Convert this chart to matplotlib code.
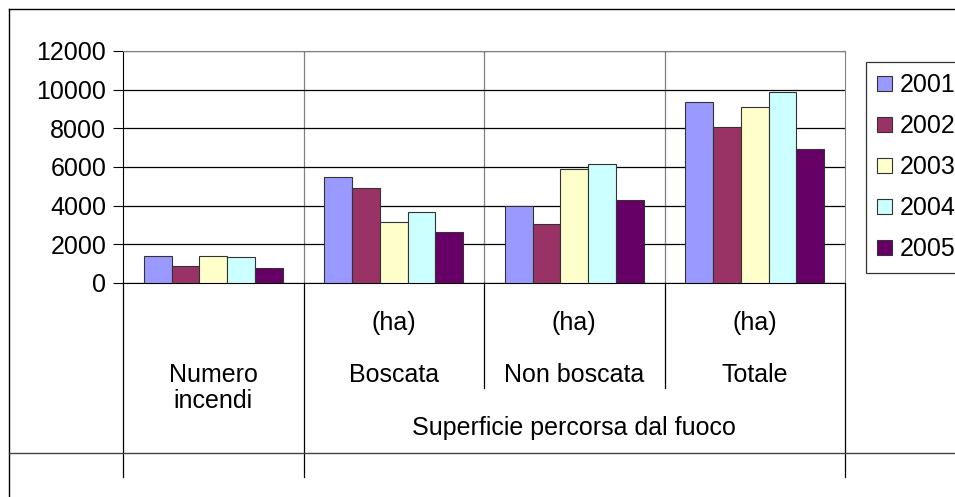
import numpy as np
import matplotlib.pyplot as plt
from matplotlib.lines import Line2D
from matplotlib.transforms import blended_transform_factory

plt.rcParams['font.family'] = ['Liberation Sans', 'DejaVu Sans']

years = ['2001', '2002', '2003', '2004', '2005']
categories = ['Numero\nincendi', 'Boscata', 'Non boscata', 'Totale']
units = ['', '(ha)', '(ha)', '(ha)']
group_label = 'Superficie percorsa dal fuoco'

v2001 = [1400, 5500, 3970, 9370]
v2002 = [900, 4900, 3050, 8070]
v2003 = [1400, 3170, 5900, 9090]
v2004 = [1320, 3670, 6130, 9890]
v2005 = [800, 2660, 4280, 6930]
series = [v2001, v2002, v2003, v2004, v2005]
colors = ['#9999FF', '#993366', '#FFFFCC', '#CCFFFF', '#660066']

W, H = 955, 497
fig = plt.figure(figsize=(W / 100, H / 100), dpi=100)
ax = fig.add_axes([123 / W, 1 - 283 / H, (845 - 123) / W, (283 - 51) / H])

x = np.arange(len(categories))
bw = 0.77 / len(series)
for i, vals in enumerate(series):
    ax.bar(x + (i - 2) * bw, vals, bw, color=colors[i], edgecolor='#333333',
           linewidth=0.8, label=years[i], zorder=3)

ax.set_xlim(-0.5, 3.5)
ax.set_ylim(0, 12000)
ax.set_yticks(np.arange(0, 12001, 2000))
ax.tick_params(axis='y', labelsize=18, length=7, width=0.8, pad=5)
ax.set_xticks([])
ax.yaxis.grid(True, color='black', linewidth=0.9, zorder=0)
for b in [0.5, 1.5, 2.5]:
    ax.axvline(b, color='#808080', linewidth=0.9, zorder=0)
ax.spines['left'].set_color('black')
ax.spines['bottom'].set_color('black')
ax.spines['top'].set_color('#808080')
ax.spines['right'].set_color('#808080')

# category axis below the plot
tr = blended_transform_factory(ax.transData, ax.transAxes)
def ay(py):
    return (283 - py) / 232.0

for b in [-0.5, 0.5, 3.5]:
    ax.add_line(Line2D([b, b], [0, ay(477)], transform=tr, color='black',
                       linewidth=0.9, clip_on=False))
for b in [1.5, 2.5]:
    ax.add_line(Line2D([b, b], [0, ay(388)], transform=tr, color='black',
                       linewidth=0.9, clip_on=False))

for i, c in enumerate(categories):
    if units[i]:
        ax.text(i, ay(323), units[i], transform=tr, ha='center', va='center', fontsize=18)
    if '\n' in c:
        ax.text(i, ay(388), c, transform=tr, ha='center', va='center', fontsize=18,
                linespacing=1.1)
    else:
        ax.text(i, ay(375), c, transform=tr, ha='center', va='center', fontsize=18)
ax.text(2, ay(428), group_label, transform=tr, ha='center', va='center', fontsize=18)

# outer frame lines
fig.add_artist(Line2D([9 / W, 1], [1 - 9 / H, 1 - 9 / H], color='black', linewidth=1))
fig.add_artist(Line2D([9 / W, 9 / W], [0, 1 - 9 / H], color='black', linewidth=1))
fig.add_artist(Line2D([9 / W, 1], [1 - 453 / H, 1 - 453 / H], color='#444444', linewidth=1))

leg = ax.legend(loc='upper left', bbox_to_anchor=(866 / W, 1 - 62 / H),
                bbox_transform=fig.transFigure, fontsize=18, frameon=True,
                fancybox=False, shadow=False, borderaxespad=0, borderpad=0.45,
                handlelength=0.6, handleheight=0.6, handletextpad=0.3,
                labelspacing=0.68)
leg.get_frame().set_edgecolor('black')
leg.get_frame().set_linewidth(0.9)

fig.savefig('out.png', dpi=100)
